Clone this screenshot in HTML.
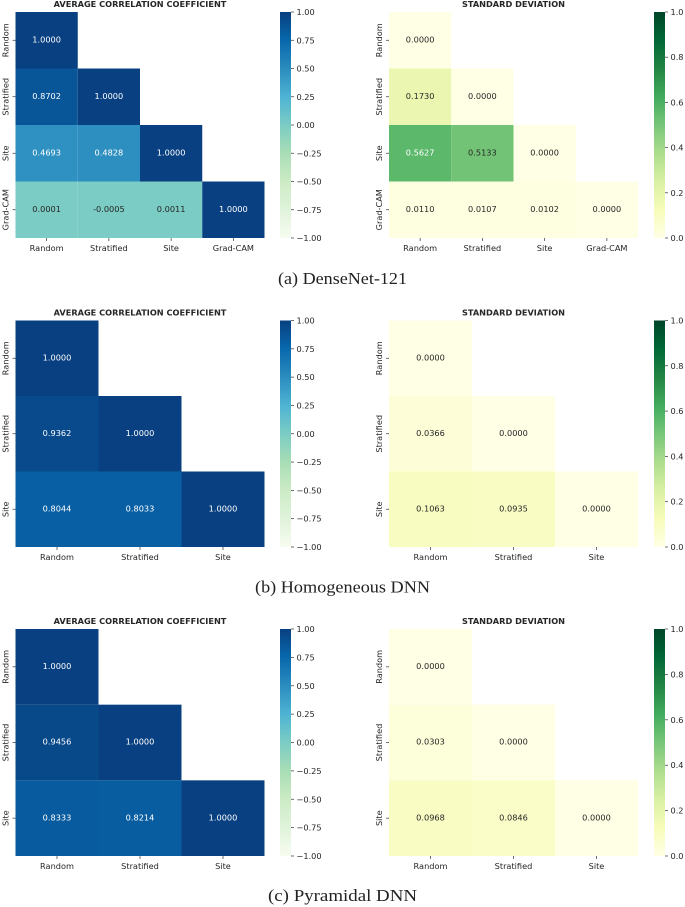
<!DOCTYPE html>
<html lang="en">
<head>
<meta charset="utf-8">
<title>Correlation heatmaps</title>
<style>
  html, body { margin: 0; padding: 0; background: #fff; }
  #figure { display: block; filter: blur(0.35px); }
  text { font-family: "DejaVu Sans", sans-serif; fill: #262626; }
  .caption { font-family: "Liberation Serif", serif; font-size: 16.5px; fill: #222; }
</style>
</head>
<body>
<svg id="figure" width="685" height="907" viewBox="0 0 685 907" xmlns="http://www.w3.org/2000/svg">
  <defs id="defs"></defs>
</svg>
<script>
const categoriesFour = ["Random", "Stratified", "Site", "Grad-CAM"];
const categoriesThree = ["Random", "Stratified", "Site"];

const corrDense = [[1.0], [0.8702, 1.0], [0.4693, 0.4828, 1.0], [0.0001, -0.0005, 0.0011, 1.0]];
const stdDense = [[0.0], [0.1730, 0.0], [0.5627, 0.5133, 0.0], [0.0110, 0.0107, 0.0102, 0.0]];
const corrHomog = [[1.0], [0.9362, 1.0], [0.8044, 0.8033, 1.0]];
const stdHomog = [[0.0], [0.0366, 0.0], [0.1063, 0.0935, 0.0]];
const corrPyram = [[1.0], [0.9456, 1.0], [0.8333, 0.8214, 1.0]];
const stdPyram = [[0.0], [0.0303, 0.0], [0.0968, 0.0846, 0.0]];

const corrTicks = [-1, -0.75, -0.5, -0.25, 0, 0.25, 0.5, 0.75, 1];
const stdTicks = [0, 0.2, 0.4, 0.6, 0.8, 1];

const gnbuColors = ["#f7fcf0", "#e0f3db", "#ccebc5", "#a8ddb5", "#7bccc4", "#4eb3d3", "#2b8cbe", "#0868ac", "#084081"];
const ylgnColors = ["#ffffe5", "#f7fcb9", "#d9f0a3", "#addd8e", "#78c679", "#41ab5d", "#238443", "#006837", "#004529"];

const NS = "http://www.w3.org/2000/svg";
const figure = document.getElementById("figure");
const defs = document.getElementById("defs");

function svgEl(tag, attrs, parent) {
  const el = document.createElementNS(NS, tag);
  for (const k in attrs) el.setAttribute(k, attrs[k]);
  parent.appendChild(el);
  return el;
}

function hexToRgb(h) {
  return [parseInt(h.slice(1, 3), 16), parseInt(h.slice(3, 5), 16), parseInt(h.slice(5, 7), 16)];
}

function colorAt(colors, t) {
  const c = Math.max(0, Math.min(1, t)) * (colors.length - 1);
  const i = Math.min(colors.length - 2, Math.floor(c));
  const f = c - i;
  const a = hexToRgb(colors[i]);
  const b = hexToRgb(colors[i + 1]);
  return [0, 1, 2].map(n => Math.round(a[n] + (b[n] - a[n]) * f));
}

function luminance(rgb) {
  const v = rgb.map(x => {
    const s = x / 255;
    return s <= 0.03928 ? s / 12.92 : Math.pow((s + 0.055) / 1.055, 2.4);
  });
  return 0.2126 * v[0] + 0.7152 * v[1] + 0.0722 * v[2];
}

function drawPanel(name, title, categories, matrix, ticks, colors, dmin, dmax, tickFmt, box) {
  const group = svgEl("g", {}, figure);
  
  

  const n = categories.length;
  const scaleX = i => box.x + (box.w * i) / n;
  const scaleY = i => box.y + (box.h * i) / n;
  const norm = v => (v - dmin) / (dmax - dmin);
  const barY = v => box.y + box.h * (1 - norm(v));

  const titleEl = svgEl("text", {
    x: box.x + box.w / 2, y: box.y - 5, "text-anchor": "middle",
    "font-size": 8.2, "font-weight": "bold", fill: "#111"
  }, group);
  titleEl.textContent = title;
  
  

  matrix.forEach((row, r) => {
    row.forEach((value, c) => {
      const rgb = colorAt(colors, norm(value));
      const cell = svgEl("rect", {
        x: scaleX(c), y: scaleY(r),
        width: scaleX(c + 1) - scaleX(c), height: scaleY(r + 1) - scaleY(r),
        fill: "rgb(" + rgb.join(",") + ")"
      }, group);
      
      

      const label = svgEl("text", {
        x: (scaleX(c) + scaleX(c + 1)) / 2, y: (scaleY(r) + scaleY(r + 1)) / 2 + 2.2,
        "text-anchor": "middle", "font-size": 8.2
      }, group);
      label.style.fill = luminance(rgb) > 0.408 ? "#262626" : "#fff";
      label.textContent = value.toFixed(4);
      
      
    });
  });

  categories.forEach((cat, i) => {
    const cx = (scaleX(i) + scaleX(i + 1)) / 2;
    const cy = (scaleY(i) + scaleY(i + 1)) / 2;

    const xTick = svgEl("line", { x1: cx, x2: cx, y1: box.y + box.h, y2: box.y + box.h + 3, stroke: "#333", "stroke-width": 0.7 }, group);
    
    

    const xLabel = svgEl("text", { x: cx, y: box.y + box.h + 13, "text-anchor": "middle", "font-size": 8.2 }, group);
    xLabel.textContent = cat;
    
    

    const yTick = svgEl("line", { x1: box.x - 3, x2: box.x, y1: cy, y2: cy, stroke: "#333", "stroke-width": 0.7 }, group);
    
    

    const lx = box.x - 7;
    const yLabel = svgEl("text", {
      x: lx, y: cy, "text-anchor": "middle", "font-size": 8.2,
      transform: "rotate(-90 " + lx + " " + cy + ")"
    }, group);
    yLabel.textContent = cat;
    
    
  });

  const gradId = name + "-gradient";
  const grad = svgEl("linearGradient", { id: gradId, x1: 0, y1: 1, x2: 0, y2: 0 }, defs);
  colors.forEach((col, i) => {
    svgEl("stop", { offset: i / (colors.length - 1), "stop-color": col }, grad);
  });

  const bar = svgEl("rect", { x: box.bx, y: box.y, width: 11, height: box.h, fill: "url(#" + gradId + ")" }, group);
  
  

  ticks.forEach(t => {
    const ty = barY(t);
    const tick = svgEl("line", { x1: box.bx + 11, x2: box.bx + 14, y1: ty, y2: ty, stroke: "#333", "stroke-width": 0.7 }, group);
    
    

    const tl = svgEl("text", { x: box.bx + 16.5, y: ty + 3, "font-size": 8.2 }, group);
    tl.textContent = tickFmt(t);
    
    
  });
}

const fmtCorr = t => (t < 0 ? "\u2212" : "") + Math.abs(t).toFixed(2);
const fmtStd = t => t.toFixed(1);
const corrTitle = "AVERAGE CORRELATION COEFFICIENT";
const stdTitle = "STANDARD DEVIATION";

drawPanel("densenet-correlation-panel", corrTitle, categoriesFour, corrDense, corrTicks, gnbuColors, -1, 1, fmtCorr, { x: 15.5, y: 12, w: 249, h: 226, bx: 280 });
drawPanel("densenet-deviation-panel", stdTitle, categoriesFour, stdDense, stdTicks, ylgnColors, 0, 1, fmtStd, { x: 389, y: 12, w: 249, h: 226, bx: 654 });
drawPanel("homogeneous-correlation-panel", corrTitle, categoriesThree, corrHomog, corrTicks, gnbuColors, -1, 1, fmtCorr, { x: 15.5, y: 320.5, w: 249, h: 226.5, bx: 280 });
drawPanel("homogeneous-deviation-panel", stdTitle, categoriesThree, stdHomog, stdTicks, ylgnColors, 0, 1, fmtStd, { x: 389, y: 320.5, w: 249, h: 226.5, bx: 654 });
drawPanel("pyramidal-correlation-panel", corrTitle, categoriesThree, corrPyram, corrTicks, gnbuColors, -1, 1, fmtCorr, { x: 15.5, y: 629, w: 249, h: 227, bx: 280 });
drawPanel("pyramidal-deviation-panel", stdTitle, categoriesThree, stdPyram, stdTicks, ylgnColors, 0, 1, fmtStd, { x: 389, y: 629, w: 249, h: 227, bx: 654 });
</script>
<svg style="position:absolute;left:0;top:0;filter:blur(0.3px)" width="685" height="907" viewBox="0 0 685 907" xmlns="http://www.w3.org/2000/svg">
  <text class="caption" x="278" y="284" textLength="129" lengthAdjust="spacingAndGlyphs">(a) DenseNet-121</text>
  <text class="caption" x="255" y="592.5" textLength="175" lengthAdjust="spacingAndGlyphs">(b) Homogeneous DNN</text>
  <text class="caption" x="268" y="901" textLength="149" lengthAdjust="spacingAndGlyphs">(c) Pyramidal DNN</text>
</svg>
</body>
</html>
